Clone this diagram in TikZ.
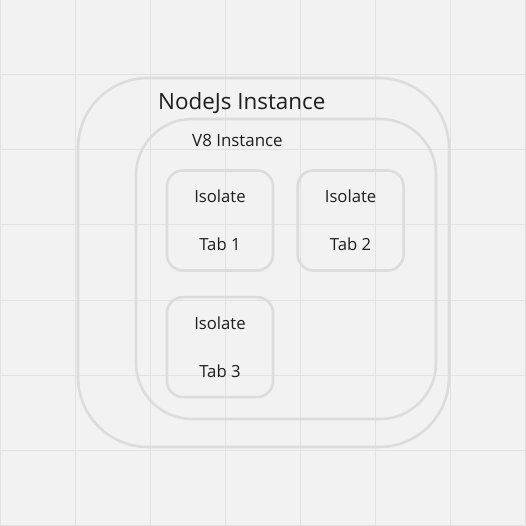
\documentclass[tikz,border=0pt]{standalone}
\usepackage{fontspec}
\setmainfont{Open Sans}
\usetikzlibrary{positioning}

\definecolor{canvas}{HTML}{F2F2F2}
\definecolor{gridgray}{HTML}{E2E2E2}
\definecolor{boxgray}{HTML}{DCDCDC}
\definecolor{textgray}{HTML}{1E1E1E}

\begin{document}
\begin{tikzpicture}[
    x=1pt, y=-1pt,
    node distance=22pt,
    gridline/.style={gridgray, line width=1pt},
    container/.style={rectangle, draw=boxgray, line width=2.6pt, inner sep=0pt},
    nodejsbox/.style={container, rounded corners=70pt, minimum width=371pt, minimum height=369pt},
    vbox/.style={container, rounded corners=56pt, minimum width=300pt, minimum height=300pt},
    isolate/.style={container, rounded corners=16pt, minimum width=106pt, minimum height=100pt,
        align=center, text=textgray, font=\fontsize{16.7pt}{19pt}\selectfont},
    title/.style={text=textgray, inner sep=0pt, anchor=west}
]

% Background and grid
\fill[canvas] (0,0) rectangle (525,526);
\useasboundingbox (0,0) rectangle (525,526);
\foreach \k in {0,75,...,525} {
    \draw[gridline] (\k,0) -- (\k,526);
    \draw[gridline] (0,\k) -- (525,\k);
}

% Containers
\node[nodejsbox] (nodejs) at (263.5,262.5) {};
\node[vbox] (v8) at (286,269) {};

% Isolates
\node[isolate] (tab1) at (220,220.5) {Isolate\\[29pt]Tab 1};
\node[isolate, right=of tab1] (tab2) {Isolate\\[29pt]Tab 2};
\node[isolate, below=24pt of tab1] (tab3) {Isolate\\[29pt]Tab 3};

% Titles
\node[title, font=\fontsize{22.4pt}{26pt}\selectfont] (nodejslabel) at (158,103) {NodeJs Instance};
\node[title, font=\fontsize{16.9pt}{20pt}\selectfont] (v8label) at (192,140) {V8 Instance};

\end{tikzpicture}
\end{document}
